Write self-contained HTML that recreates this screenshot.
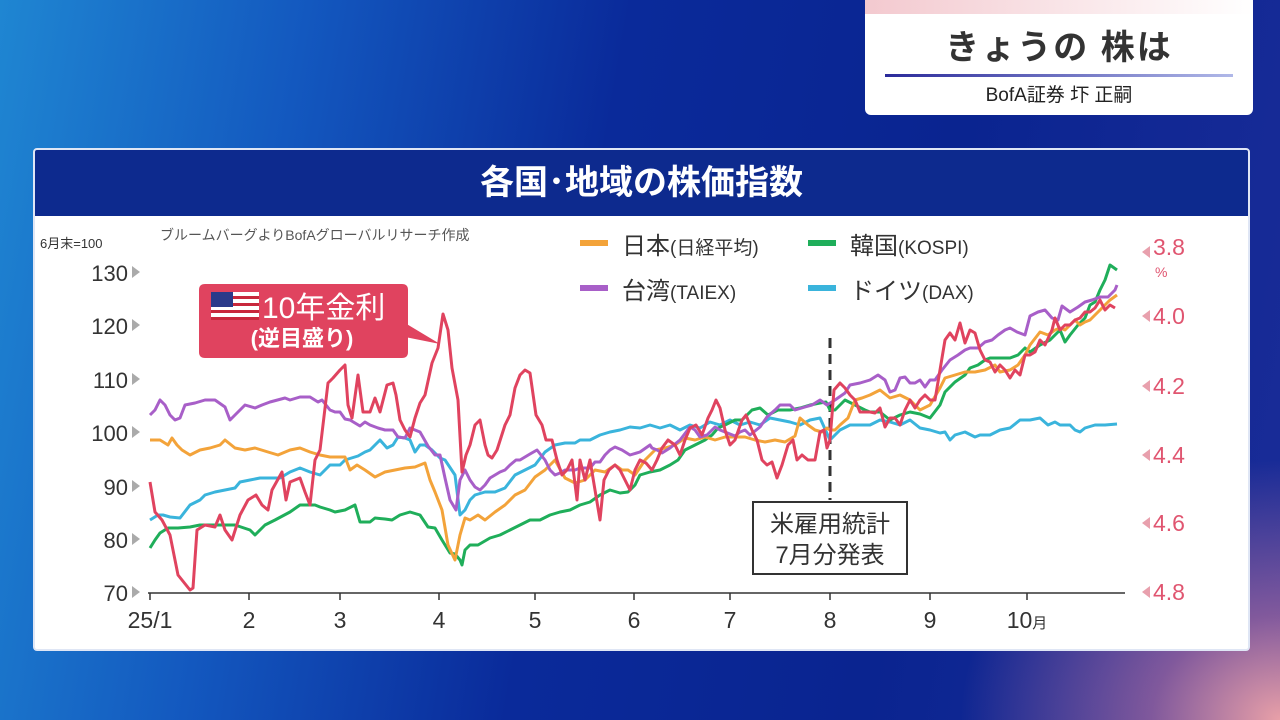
<!DOCTYPE html>
<html><head><meta charset="utf-8"><style>
body{margin:0;width:1280px;height:720px;overflow:hidden;font-family:"Liberation Sans","Noto Sans CJK JP",sans-serif;
background:radial-gradient(ellipse 320px 260px at 1280px 720px,#e8a0a8 0%,rgba(200,120,160,0.6) 40%,rgba(20,40,150,0) 100%),linear-gradient(100deg,#1f86d2 0%,#1358bf 22%,#0a2a9a 45%,#0a2490 70%,#1a2c98 100%);position:relative}
.box{position:absolute;left:865px;top:0;width:388px;height:115px;background:#fff;border-radius:0 0 6px 6px}
.panel{position:absolute;left:33px;top:148px;width:1213px;height:499px;background:#fff;border:2px solid #dfe6f5;border-radius:4px;overflow:hidden}
.hdr{height:66px;background:#0d2a8e;color:#fff;font-size:34px;font-weight:bold;text-align:center;line-height:66px}
</style></head><body>
<div class="box">
 <div style="height:14px;background:linear-gradient(90deg,#f3c9cf,#fff)"></div>
 <div style="text-align:center;font-size:34px;font-weight:bold;color:#333;margin-top:6px;letter-spacing:2px">きょうの 株は</div>
 <div style="margin:5px 20px 0;height:3px;background:linear-gradient(90deg,#2a2a9a,#b0b8e8)"></div>
 <div style="text-align:center;font-size:19px;color:#222;margin-top:3px">BofA証券 圷 正嗣</div>
</div>
<div class="panel"><div class="hdr">各国･地域の株価指数</div></div>
<svg style="position:absolute;left:0;top:0" width="1280" height="720" font-family="Liberation Sans, Noto Sans CJK JP, sans-serif">
<text x="40" y="248" font-size="13" fill="#333">6月末=100</text>
<text x="160" y="240" font-size="14" fill="#555">ブルームバーグよりBofAグローバルリサーチ作成</text>
<g font-size="22" fill="#333" text-anchor="end">
<text x="128" y="281">130</text><text x="128" y="334">120</text><text x="128" y="388">110</text><text x="128" y="441">100</text><text x="128" y="495">90</text><text x="128" y="548">80</text><text x="128" y="601">70</text></g>
<g fill="#aaa"><path d="M132 266l8 6-8 6z"/><path d="M132 319l8 6-8 6z"/><path d="M132 373l8 6-8 6z"/><path d="M132 426l8 6-8 6z"/><path d="M132 480l8 6-8 6z"/><path d="M132 533l8 6-8 6z"/><path d="M132 586l8 6-8 6z"/></g>
<g fill="#e8a0ad"><path d="M1150 246l-8 6 8 6z"/><path d="M1150 310l-8 6 8 6z"/><path d="M1150 380l-8 6 8 6z"/><path d="M1150 449l-8 6 8 6z"/><path d="M1150 517l-8 6 8 6z"/><path d="M1150 586l-8 6 8 6z"/></g>
<g font-size="23" fill="#e05570"><text x="1153" y="255">3.8</text><text x="1153" y="324">4.0</text><text x="1153" y="394">4.2</text><text x="1153" y="463">4.4</text><text x="1153" y="531">4.6</text><text x="1153" y="600">4.8</text></g>
<text x="1155" y="277" font-size="14" fill="#e05570">%</text>
<line x1="148" y1="593" x2="1125" y2="593" stroke="#333" stroke-width="1.5"/>
<g stroke="#333" stroke-width="1.5"><line x1="150" y1="593" x2="150" y2="600"/><line x1="249" y1="593" x2="249" y2="600"/><line x1="340" y1="593" x2="340" y2="600"/><line x1="439" y1="593" x2="439" y2="600"/><line x1="535" y1="593" x2="535" y2="600"/><line x1="634" y1="593" x2="634" y2="600"/><line x1="730" y1="593" x2="730" y2="600"/><line x1="830" y1="593" x2="830" y2="600"/><line x1="930" y1="593" x2="930" y2="600"/><line x1="1027" y1="593" x2="1027" y2="600"/></g>
<g font-size="23" fill="#333" text-anchor="middle"><text x="150" y="628">25/1</text><text x="249" y="628">2</text><text x="340" y="628">3</text><text x="439" y="628">4</text><text x="535" y="628">5</text><text x="634" y="628">6</text><text x="730" y="628">7</text><text x="830" y="628">8</text><text x="930" y="628">9</text><text x="1027" y="628">10<tspan font-size="15">月</tspan></text></g>
<g font-size="24" fill="#333">
<rect x="580" y="240" width="28" height="6" fill="#f3a33a"/><text x="622" y="254">日本<tspan font-size="19">(日経平均)</tspan></text>
<rect x="808" y="240" width="28" height="6" fill="#1fae5a"/><text x="850" y="254">韓国<tspan font-size="19">(KOSPI)</tspan></text>
<rect x="580" y="285" width="28" height="6" fill="#a85fc8"/><text x="622" y="299">台湾<tspan font-size="19">(TAIEX)</tspan></text>
<rect x="808" y="285" width="28" height="6" fill="#3ab4dc"/><text x="850" y="299">ドイツ<tspan font-size="19">(DAX)</tspan></text></g>
<line x1="830" y1="338" x2="830" y2="500" stroke="#333" stroke-width="3" stroke-dasharray="10,6"/>
<rect x="753" y="502" width="154" height="72" fill="#fff" stroke="#333" stroke-width="2"/>
<text x="830" y="532" font-size="24" fill="#333" text-anchor="middle">米雇用統計</text>
<text x="830" y="563" font-size="24" fill="#333" text-anchor="middle">7月分発表</text>
<g fill="none" stroke-width="3" stroke-linejoin="round">
<polyline stroke="#3ab4dc" points="150,520 158,515 163,515 170,517 180,518 190,505 200,500 205,495 215,492 225,490 235,488 240,482 250,480 260,478 270,478 280,478 290,472 300,468 310,472 320,475 330,465 340,465 345,460 358,456 365,452 370,450 380,440 387,448 393,445 398,437 405,438 410,440 415,452 420,445 425,445 432,450 440,458 445,460 455,475 460,515 465,510 470,500 475,495 485,492 495,492 505,488 515,475 525,470 535,465 545,452 555,445 565,443 575,443 580,440 590,440 600,435 610,432 620,430 630,427 640,428 650,425 660,428 670,425 680,430 690,425 700,428 710,422 720,425 730,420 740,425 750,422 760,425 770,418 780,420 790,422 800,425 810,420 820,418 830,440 840,430 850,425 860,425 870,425 880,420 890,422 900,425 910,420 920,428 930,430 940,433 945,432 950,440 955,435 965,432 975,437 980,435 990,435 1000,430 1010,428 1020,420 1030,420 1040,418 1048,425 1055,422 1060,425 1070,425 1075,430 1080,432 1085,428 1095,425 1105,425 1117,424"/>
<polyline stroke="#1fae5a" points="150,548 155,540 160,533 168,528 178,528 190,527 200,525 215,525 235,525 250,530 255,535 265,525 275,520 290,512 300,505 315,505 320,507 330,510 335,512 345,510 355,505 360,522 370,522 375,518 385,519 392,520 400,515 410,512 420,515 428,527 435,528 442,540 450,553 455,554 460,560 462,565 465,550 470,545 478,545 490,538 500,535 510,530 520,525 530,520 540,520 550,515 560,512 570,510 580,505 590,502 600,495 610,490 620,493 628,492 635,485 640,475 650,472 660,470 670,465 678,460 685,450 695,445 705,440 712,435 718,428 725,425 735,420 742,420 752,410 760,408 768,415 778,410 790,410 800,408 810,405 820,403 826,402 830,410 835,410 845,400 855,405 865,410 870,412 880,412 890,420 900,415 910,412 920,414 930,418 940,405 945,392 955,382 965,375 970,368 978,365 985,360 990,358 1000,358 1010,358 1018,355 1025,348 1030,352 1040,345 1050,340 1060,330 1065,342 1070,335 1078,325 1085,318 1090,305 1095,302 1100,290 1105,280 1110,265 1117,270"/>
<polyline stroke="#f3a33a" points="150,440 160,440 168,445 172,438 177,445 182,450 190,455 200,450 210,448 220,445 225,440 235,448 245,450 255,448 268,452 278,455 290,450 300,448 310,452 320,455 330,457 345,457 350,470 357,465 365,470 375,477 385,472 395,470 405,468 415,467 425,463 430,480 435,492 442,510 448,545 455,560 460,535 465,518 470,520 478,515 485,520 495,512 505,505 515,495 525,490 535,477 545,470 555,460 565,478 575,483 585,480 595,470 605,472 615,465 622,470 628,470 635,475 645,460 655,450 665,448 675,445 685,438 695,440 705,437 715,440 725,437 735,437 745,437 755,440 765,442 775,440 785,442 795,436 800,418 808,425 815,430 822,432 827,428 830,430 835,430 840,425 848,418 855,400 862,398 870,395 880,390 890,398 900,395 910,400 920,410 930,405 940,388 945,378 955,375 965,372 975,372 985,370 995,365 1000,372 1010,370 1018,365 1025,355 1030,345 1040,332 1048,335 1055,330 1060,328 1065,330 1070,325 1075,320 1080,325 1085,322 1090,320 1095,315 1100,310 1105,305 1110,300 1117,295"/>
<polyline stroke="#a85fc8" points="150,415 155,410 160,400 165,405 170,415 175,420 180,418 185,405 195,403 205,400 215,400 225,407 230,420 235,415 245,405 255,408 262,405 270,402 285,398 290,400 300,397 310,397 318,402 322,400 330,410 335,412 340,412 345,419 350,420 360,426 365,422 370,425 378,428 385,430 393,430 398,437 405,438 410,428 420,432 428,446 435,455 440,455 445,478 450,500 456,510 460,480 465,470 470,480 475,487 480,490 485,485 490,478 495,475 500,472 505,470 510,465 516,460 520,460 530,454 537,450 545,460 550,470 555,475 560,473 565,470 575,470 580,468 590,468 595,462 600,462 605,455 610,450 615,447 622,450 630,455 640,452 650,445 652,448 657,450 662,453 670,448 680,440 690,427 695,430 700,437 707,435 715,427 720,430 725,432 735,436 740,432 745,430 750,435 760,427 767,417 775,410 780,405 790,405 795,410 805,407 812,405 820,400 827,405 835,400 845,393 850,385 860,383 870,380 878,375 885,380 890,392 895,390 900,378 905,377 910,383 915,383 920,380 925,387 930,380 935,380 942,370 950,360 958,355 965,350 970,348 978,348 985,342 992,340 998,335 1005,330 1010,328 1017,332 1025,335 1030,316 1038,312 1045,310 1052,318 1058,320 1062,306 1070,312 1078,307 1085,302 1092,300 1100,297 1108,297 1115,290 1117,285"/>
<polyline stroke="#e0435f" points="150,482 155,512 162,520 170,535 178,575 190,590 193,588 197,530 205,525 215,527 220,515 225,530 232,540 240,515 248,500 256,495 262,505 268,510 272,490 282,472 286,500 290,482 295,480 300,478 305,492 310,505 315,460 320,450 328,383 333,378 340,370 345,365 348,405 352,418 358,375 363,412 370,412 375,398 380,412 387,385 393,383 396,395 400,420 405,430 410,437 415,418 420,403 425,395 432,363 438,348 443,314 448,330 452,368 458,400 462,472 466,455 470,445 475,425 480,420 485,445 488,455 492,458 497,450 505,425 510,415 515,388 520,375 525,370 530,373 536,415 542,425 546,440 552,440 557,460 562,475 567,470 572,460 577,500 580,460 585,480 590,460 600,520 604,480 609,470 615,465 620,470 625,480 630,490 635,470 640,460 646,463 652,470 657,460 662,448 668,440 675,445 680,455 685,440 690,428 696,425 702,435 708,418 712,410 716,400 720,408 725,430 730,445 735,440 742,420 746,415 752,430 757,440 762,460 767,465 772,462 777,478 782,465 788,445 793,440 797,460 802,455 808,460 815,460 820,432 824,430 827,448 830,440 834,390 840,383 845,388 850,395 855,400 860,412 870,412 875,413 880,408 885,427 890,418 895,418 900,425 905,410 910,400 915,408 920,400 925,395 930,400 935,400 940,370 945,340 950,333 955,340 960,323 965,343 970,330 975,333 980,350 985,360 990,362 995,372 1000,365 1005,370 1010,378 1015,370 1020,375 1025,355 1030,355 1035,352 1040,340 1045,345 1052,330 1055,318 1060,330 1065,325 1070,325 1075,320 1080,318 1085,312 1090,312 1095,308 1100,300 1105,310 1110,305 1115,308"/>
</g>
<path d="M205 284h197q6 0 6 6v62q0 6-6 6H205q-6 0-6-6v-62q0-6 6-6z" fill="#e0435f"/>
<path d="M400 320l40 24-40 -8z" fill="#e0435f"/>
<rect x="211" y="292" width="48" height="28" fill="#fff"/>
<g fill="#c8283c"><rect x="211" y="296" width="48" height="3"/><rect x="211" y="303" width="48" height="3"/><rect x="211" y="310" width="48" height="3"/><rect x="211" y="317" width="48" height="3"/></g>
<rect x="211" y="292" width="22" height="15" fill="#2a3a8a"/>
<text x="262" y="318" font-size="30" fill="#fff">10年金利</text>
<text x="302" y="346" font-size="22" fill="#fff" text-anchor="middle" font-weight="bold">(逆目盛り)</text>
</svg>
</body></html>
